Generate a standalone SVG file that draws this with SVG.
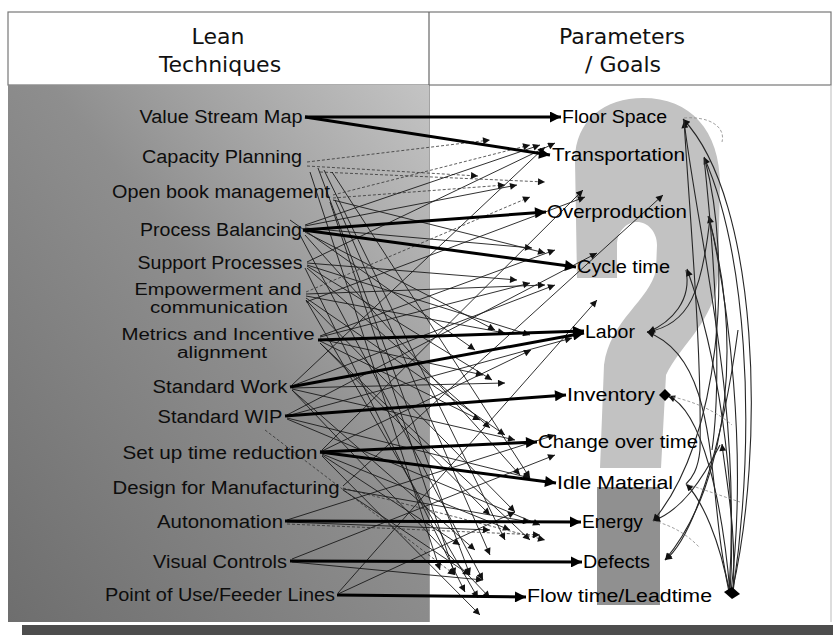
<svg xmlns="http://www.w3.org/2000/svg" width="833" height="635" viewBox="0 0 833 635">
<defs>
<linearGradient id="lg" x1="0" y1="1" x2="1" y2="0">
<stop offset="0" stop-color="#6e6e6e"/>
<stop offset="0.55" stop-color="#8e8e8e"/>
<stop offset="1" stop-color="#c4c4c4"/>
</linearGradient>
<marker id="ah" viewBox="0 0 10 10" refX="10" refY="5" markerWidth="15" markerHeight="11" markerUnits="userSpaceOnUse" orient="auto"><path d="M0,0L10,5L0,10z" fill="#000"/></marker>
<marker id="as" viewBox="0 0 10 10" refX="10" refY="5" markerWidth="9" markerHeight="7" markerUnits="userSpaceOnUse" orient="auto"><path d="M0,0L10,5L0,10z" fill="#111"/></marker>
<style>
.lab{font-family:"Liberation Sans",Arial,sans-serif;font-size:18px;fill:#0d0d0d;text-anchor:middle}
.lab2{font-family:"Liberation Sans",Arial,sans-serif;font-size:16px;fill:#0d0d0d;text-anchor:middle}
.rl{font-family:"Liberation Sans",Arial,sans-serif;font-size:18px;fill:#000}
.hd{font-family:"DejaVu Sans",Verdana,sans-serif;font-size:22px;fill:#111;text-anchor:middle}
.k{stroke:#000;stroke-width:3;fill:none;marker-end:url(#ah)}
.t{stroke:#1a1a1a;stroke-width:0.9;fill:none;marker-end:url(#as)}
.d{stroke:#333;stroke-width:0.8;stroke-dasharray:3 2;fill:none;marker-end:url(#as)}
.c{stroke:#262626;stroke-width:1.1;fill:none}
.ca{stroke:#262626;stroke-width:1.1;fill:none;marker-end:url(#as)}
.g{stroke:#888;stroke-width:0.8;stroke-dasharray:3 2;fill:none}
</style>
</defs>
<rect width="833" height="635" fill="#fff"/>
<rect x="8" y="12" width="823" height="73" fill="#fff" stroke="#777" stroke-width="1.2"/>
<line x1="429" y1="12" x2="429" y2="622" stroke="#666" stroke-width="1.2"/>
<rect x="8" y="85" width="421" height="537" fill="url(#lg)"/>
<line x1="831" y1="85" x2="831" y2="622" stroke="#bbb" stroke-width="1"/>
<rect x="22" y="625" width="811" height="10" fill="#4d4d4d"/>
<path d="M577,278 L575,160 C575,120 605,98 643,98 C690,98 720,130 720,185 L718,275 C716,320 680,345 666,375 L661,468 L600,468 L604,365 C610,320 650,300 656,270 L657,245 C657,232 648,222 637,222 C626,222 617,232 617,245 L617,278 Z" fill="#c2c2c2"/>
<rect x="597" y="487" width="63" height="118" fill="#909090"/>
<text class="hd" x="218" y="44">Lean</text>
<text class="hd" x="220" y="72">Techniques</text>
<text class="hd" x="622" y="44">Parameters</text>
<text class="hd" x="623" y="72">/ Goals</text>
<g id="connectors">
<g id="thin">
<path class="d" d="M307,162L490,140"/>
<path class="d" d="M307,166L478,176"/>
<path class="d" d="M320,172L545,182"/>
<path class="t" d="M318,168L470,575"/>
<path class="t" d="M324,170L505,540"/>
<path class="t" d="M332,172L530,478"/>
<path class="t" d="M310,172L440,570"/>
<path class="d" d="M333,195L530,145"/>
<path class="d" d="M333,198L505,185"/>
<path class="t" d="M333,200L545,253"/>
<path class="t" d="M330,202L455,575"/>
<path class="t" d="M335,200L490,555"/>
<path class="t" d="M305,225L540,145"/>
<path class="t" d="M305,226L517,185"/>
<path class="t" d="M305,228L532,248"/>
<path class="t" d="M305,232L495,330"/>
<path class="t" d="M300,235L483,580"/>
<path class="t" d="M305,235L520,475"/>
<path class="t" d="M290,220L475,350"/>
<path class="t" d="M307,262L555,143"/>
<path class="t" d="M307,263L517,280"/>
<path class="t" d="M307,265L530,335"/>
<path class="t" d="M307,266L492,380"/>
<path class="t" d="M307,268L490,428"/>
<path class="t" d="M305,268L465,592"/>
<path class="d" d="M306,292L530,197"/>
<path class="t" d="M306,294L545,285"/>
<path class="t" d="M306,296L505,333"/>
<path class="t" d="M306,298L505,435"/>
<path class="t" d="M306,300L478,598"/>
<path class="t" d="M306,300L515,512"/>
<path class="t" d="M306,302L585,197"/>
<path class="t" d="M320,336L555,250"/>
<path class="t" d="M320,337L530,283"/>
<path class="t" d="M320,339L483,375"/>
<path class="t" d="M320,341L480,420"/>
<path class="t" d="M320,343L490,515"/>
<path class="t" d="M320,343L530,540"/>
<path class="t" d="M292,385L545,147"/>
<path class="t" d="M292,386L555,285"/>
<path class="t" d="M292,388L505,383"/>
<path class="t" d="M292,389L515,440"/>
<path class="t" d="M292,390L475,550"/>
<path class="t" d="M292,390L490,598"/>
<path class="t" d="M287,415L597,253"/>
<path class="t" d="M287,416L572,338"/>
<path class="t" d="M287,418L530,478"/>
<path class="t" d="M287,419L540,525"/>
<path class="d" d="M265,430L455,575"/>
<path class="t" d="M322,450L583,190"/>
<path class="t" d="M322,451L531,350"/>
<path class="t" d="M322,454L510,530"/>
<path class="t" d="M322,455L460,545"/>
<path class="t" d="M322,456L480,615"/>
<path class="t" d="M343,486L663,195"/>
<path class="d" d="M343,488L545,540"/>
<path class="t" d="M343,489L530,522"/>
<path class="t" d="M343,490L470,575"/>
<path class="t" d="M287,520L555,435"/>
<path class="t" d="M287,522L490,530"/>
<path class="d" d="M287,524L540,535"/>
<path class="t" d="M292,559L555,455"/>
<path class="t" d="M292,562L483,580"/>
<path class="t" d="M338,593L597,300"/>
<path class="t" d="M338,594L515,512"/>
</g>
<g id="thick">
<path class="k" d="M305,117L561,117"/>
<path class="k" d="M305,117L550,155"/>
<path class="k" d="M303,230L546,212"/>
<path class="k" d="M303,230L576,267"/>
<path class="k" d="M318,340L584,331"/>
<path class="k" d="M290,387L584,333"/>
<path class="k" d="M285,416L566,395"/>
<path class="k" d="M320,452L537,442"/>
<path class="k" d="M320,452L556,483"/>
<path class="k" d="M285,521L581,522"/>
<path class="k" d="M290,561L582,562"/>
<path class="k" d="M337,595L526,597"/>
</g>
<g id="right-curves">
<path class="ca" d="M732,592C765,450 760,200 683,119"/>
<path class="ca" d="M729,592C742,400 700,250 684,121"/>
<path class="ca" d="M733,592C758,420 745,250 704,157"/>
<path class="ca" d="M731,592C748,450 728,300 709,216"/>
<path class="ca" d="M730,592C738,480 716,350 687,269"/>
<path class="ca" d="M730,592C705,500 725,360 647,332"/>
<path class="ca" d="M730,592C722,500 702,410 668,396"/>
<path class="ca" d="M733,592C737,530 726,480 722,444"/>
<path class="ca" d="M729,592C720,540 702,500 686,484"/>
<path class="ca" d="M720,445C702,480 682,510 653,521"/>
<path class="ca" d="M738,330C722,450 692,540 665,560"/>
<path class="ca" d="M710,218C702,290 690,325 647,332"/>
<path class="ca" d="M705,160C732,260 722,440 653,521"/>
<path class="ca" d="M708,216C742,330 732,480 665,560"/>
<path class="ca" d="M686,270C692,300 672,322 648,332"/>
<path class="c" d="M684,120C690,220 702,350 700,450C698,470 692,478 686,484"/>
<path class="c" d="M704,158C715,260 722,380 712,450"/>
<path class="g" d="M684,118C708,116 726,126 722,142"/>
<path class="g" d="M668,396C690,400 715,410 732,425"/>
<path class="g" d="M686,484C705,490 722,496 740,502"/>
<path class="g" d="M653,521C672,525 688,535 700,548"/>
</g>
</g>
<g id="node-vsm"><text class="lab" x="221" y="123" textLength="163" lengthAdjust="spacingAndGlyphs">Value Stream Map</text></g>
<g id="node-cp"><text class="lab" x="222" y="163" textLength="160" lengthAdjust="spacingAndGlyphs">Capacity Planning</text></g>
<g id="node-obm"><text class="lab" x="221" y="198" textLength="218" lengthAdjust="spacingAndGlyphs">Open book management</text></g>
<g id="node-pb"><text class="lab" x="221" y="236" textLength="162" lengthAdjust="spacingAndGlyphs">Process Balancing</text></g>
<g id="node-sp"><text class="lab" x="220" y="269" textLength="165" lengthAdjust="spacingAndGlyphs">Support Processes</text></g>
<g id="node-ec"><text class="lab2" x="218" y="295" textLength="167" lengthAdjust="spacingAndGlyphs">Empowerment and</text><text class="lab2" x="219" y="313" textLength="138" lengthAdjust="spacingAndGlyphs">communication</text></g>
<g id="node-mi"><text class="lab2" x="218" y="340" textLength="193" lengthAdjust="spacingAndGlyphs">Metrics and Incentive</text><text class="lab2" x="222" y="358" textLength="90" lengthAdjust="spacingAndGlyphs">alignment</text></g>
<g id="node-sw"><text class="lab" x="220" y="393" textLength="135" lengthAdjust="spacingAndGlyphs">Standard Work</text></g>
<g id="node-swip"><text class="lab" x="220" y="423" textLength="125" lengthAdjust="spacingAndGlyphs">Standard WIP</text></g>
<g id="node-su"><text class="lab" x="220" y="459" textLength="195" lengthAdjust="spacingAndGlyphs">Set up time reduction</text></g>
<g id="node-dfm"><text class="lab" x="226" y="494" textLength="227" lengthAdjust="spacingAndGlyphs">Design for Manufacturing</text></g>
<g id="node-au"><text class="lab" x="220" y="528" textLength="126" lengthAdjust="spacingAndGlyphs">Autonomation</text></g>
<g id="node-vc"><text class="lab" x="220" y="568" textLength="134" lengthAdjust="spacingAndGlyphs">Visual Controls</text></g>
<g id="node-pu"><text class="lab" x="220" y="601" textLength="230" lengthAdjust="spacingAndGlyphs">Point of Use/Feeder Lines</text></g>
<g id="goal-fs"><text class="rl" x="562" y="123" textLength="105" lengthAdjust="spacingAndGlyphs">Floor Space</text></g>
<g id="goal-tr"><text class="rl" x="552" y="161" textLength="133" lengthAdjust="spacingAndGlyphs">Transportation</text></g>
<g id="goal-ov"><text class="rl" x="547" y="218" textLength="140" lengthAdjust="spacingAndGlyphs">Overproduction</text></g>
<g id="goal-ct"><text class="rl" x="577" y="273" textLength="93" lengthAdjust="spacingAndGlyphs">Cycle time</text></g>
<g id="goal-la"><text class="rl" x="585" y="338" textLength="50" lengthAdjust="spacingAndGlyphs">Labor</text></g>
<g id="goal-in"><text class="rl" x="567" y="401" textLength="88" lengthAdjust="spacingAndGlyphs">Inventory</text><path d="M665,389L671,395L665,401L659,395z" fill="#000"/></g>
<g id="goal-co"><text class="rl" x="538" y="448" textLength="160" lengthAdjust="spacingAndGlyphs">Change over time</text></g>
<g id="goal-im"><text class="rl" x="557" y="489" textLength="116" lengthAdjust="spacingAndGlyphs">Idle Material</text></g>
<g id="goal-en"><text class="rl" x="582" y="528" textLength="61" lengthAdjust="spacingAndGlyphs">Energy</text></g>
<g id="goal-de"><text class="rl" x="583" y="568" textLength="67" lengthAdjust="spacingAndGlyphs">Defects</text></g>
<g id="goal-ft"><text class="rl" x="527" y="602" textLength="185" lengthAdjust="spacingAndGlyphs">Flow time/Leadtime</text><path d="M724,592L732,587L740,594L732,599z" fill="#000"/></g>
</svg>
